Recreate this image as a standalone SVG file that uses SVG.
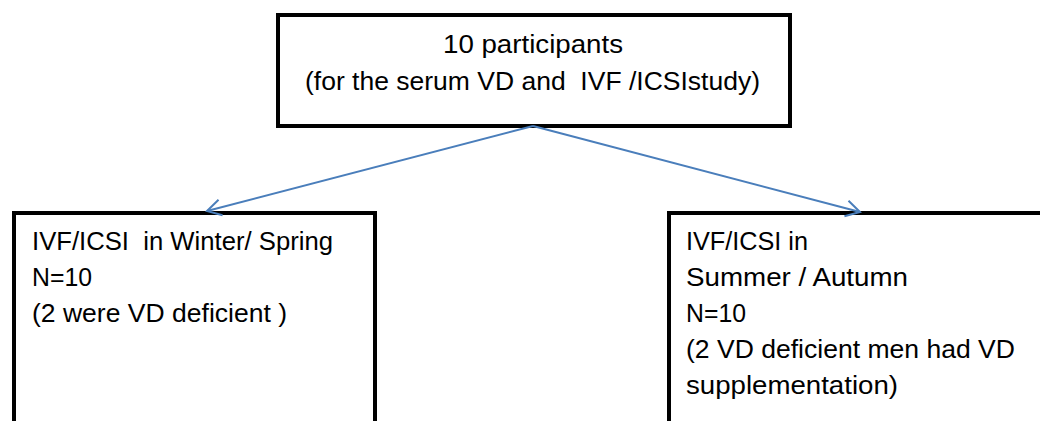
<svg xmlns="http://www.w3.org/2000/svg" width="1040" height="421" viewBox="0 0 1040 421">
<style>
.box{fill:#fff;stroke:#000;stroke-width:4}
.t{font-family:"Liberation Sans",Arial,sans-serif;font-size:25px;fill:#000}
.c{stroke:#4a7ebb;stroke-width:2;fill:none}
</style>
<defs>
<marker id="ah" viewBox="0 0 20 20" refX="18" refY="10" markerWidth="20" markerHeight="20" markerUnits="userSpaceOnUse" orient="auto">
<path d="M4,2 L18,10 L4,18" fill="none" stroke="#4a7ebb" stroke-width="2"/>
</marker>
</defs>
<rect width="1040" height="421" fill="#fff"/>
<g id="top">
<rect class="box" x="278" y="15" width="512" height="111"/>
<text class="t" x="443" y="53" textLength="180" lengthAdjust="spacingAndGlyphs">10 participants</text>
<text class="t" x="305" y="90" xml:space="preserve" textLength="455" lengthAdjust="spacingAndGlyphs">(for the serum VD and  IVF /ICSIstudy)</text>
</g>
<g id="left">
<rect class="box" x="14" y="213" width="361" height="230"/>
<text class="t" x="32" y="250" xml:space="preserve" textLength="301" lengthAdjust="spacingAndGlyphs">IVF/ICSI  in Winter/ Spring</text>
<text class="t" x="32" y="286" textLength="60" lengthAdjust="spacingAndGlyphs">N=10</text>
<text class="t" x="32" y="322" xml:space="preserve" textLength="255" lengthAdjust="spacingAndGlyphs">(2 were VD deficient )</text>
</g>
<g id="right">
<rect class="box" x="669" y="213" width="400" height="230"/>
<text class="t" x="686" y="250" textLength="122" lengthAdjust="spacingAndGlyphs">IVF/ICSI in</text>
<text class="t" x="686" y="286" textLength="222" lengthAdjust="spacingAndGlyphs">Summer / Autumn</text>
<text class="t" x="686" y="322" textLength="60" lengthAdjust="spacingAndGlyphs">N=10</text>
<text class="t" x="686" y="358" textLength="329" lengthAdjust="spacingAndGlyphs">(2 VD deficient men had VD</text>
<text class="t" x="686" y="394" textLength="212" lengthAdjust="spacingAndGlyphs">supplementation)</text>
</g>
<g id="connectors">
<line class="c" x1="533" y1="126" x2="207" y2="211" marker-end="url(#ah)"/>
<line class="c" x1="533" y1="126" x2="860" y2="212" marker-end="url(#ah)"/>
</g>
</svg>
